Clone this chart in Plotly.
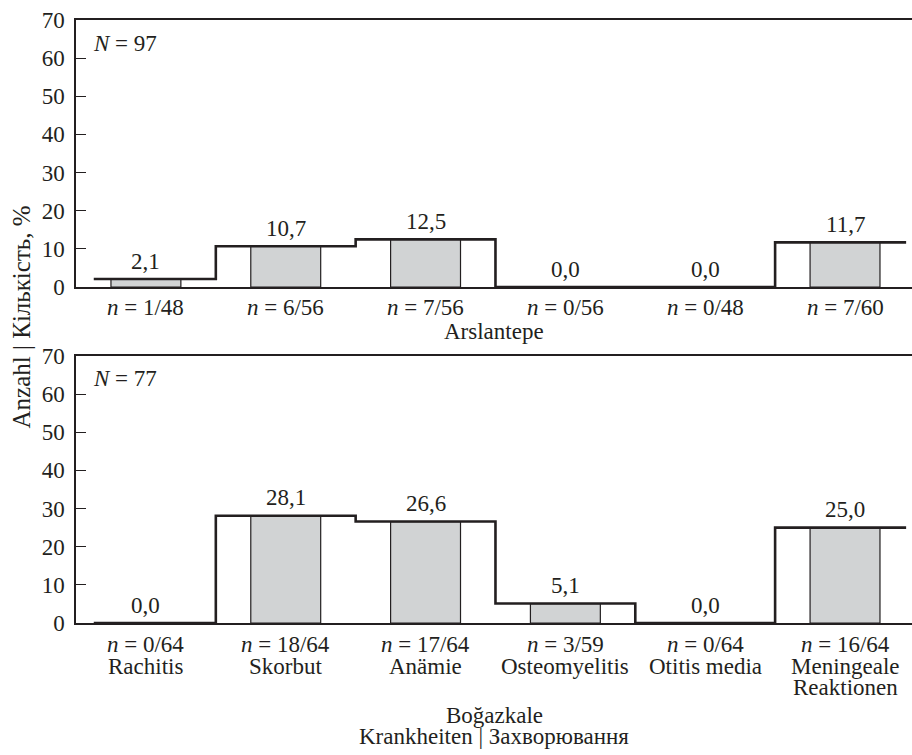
import plotly.graph_objects as go

# Disease prevalence (%) per site
diseases = ["Rachitis", "Skorbut", "Anämie", "Osteomyelitis", "Otitis media",
            "Meningeale<br>Reaktionen"]
arslantepe_pct = [2.1, 10.7, 12.5, 0.0, 0.0, 11.7]
arslantepe_n = ["1/48", "6/56", "7/56", "0/56", "0/48", "7/60"]
bogazkale_pct = [0.0, 28.1, 26.6, 5.1, 0.0, 25.0]
bogazkale_n = ["0/64", "18/64", "17/64", "3/59", "0/64", "16/64"]
arslantepe_total = 97
bogazkale_total = 77
y_ticks = [0, 10, 20, 30, 40, 50, 60, 70]

INK = "#231f20"
BAR_FILL = "#d1d3d4"
FONT = "'Liberation Serif', 'Times New Roman', Times, 'DejaVu Serif', serif"
FS = 23

idx = list(range(len(diseases)))
fig = go.Figure()


def add_panel(values, row):
    xa = "x" if row == 1 else "x2"
    ya = "y" if row == 1 else "y2"
    fig.add_trace(go.Bar(
        x=idx, y=values, width=0.5, xaxis=xa, yaxis=ya,
        marker=dict(color=BAR_FILL, line=dict(color=INK, width=1.2)),
        showlegend=False, hoverinfo="skip",
    ))
    # step outline across the category bands
    sx = [-0.373] + idx + [5.437]
    sy = [values[0]] + values + [values[-1]]
    fig.add_trace(go.Scatter(
        x=sx, y=sy, xaxis=xa, yaxis=ya, mode="lines",
        line=dict(color=INK, width=2.6, shape="hvh"),
        showlegend=False, hoverinfo="skip",
    ))


add_panel(arslantepe_pct, 1)
add_panel(bogazkale_pct, 2)

ann = []
tfont = dict(family=FONT, size=FS, color=INK)


def value_labels(values, xref, yref):
    for i, v in enumerate(values):
        ann.append(dict(x=i, y=v, xref=xref, yref=yref, showarrow=False,
                        text=f"{v:.1f}".replace(".", ","), font=tfont,
                        yanchor="middle", yshift=18))


value_labels(arslantepe_pct, "x", "y")
value_labels(bogazkale_pct, "x2", "y2")

# category labels under each panel
for i in idx:
    ann.append(dict(x=i, y=0, xref="x", yref="y domain", showarrow=False,
                    text=f"<i>n</i> = {arslantepe_n[i]}", font=tfont,
                    yanchor="middle", yshift=-20))
    ann.append(dict(x=i, y=0, xref="x2", yref="y2 domain", showarrow=False,
                    text=f"<i>n</i> = {bogazkale_n[i]}", font=tfont,
                    yanchor="middle", yshift=-21))
    for k, line in enumerate(diseases[i].split("<br>")):
        ann.append(dict(x=i, y=0, xref="x2", yref="y2 domain", showarrow=False,
                        text=line, font=tfont,
                        yanchor="middle", yshift=-43 - 21 * k))

ann += [
    dict(x=0.5, y=0, xref="x domain", yref="y domain", showarrow=False,
         text="Arslantepe", font=tfont, yanchor="middle", yshift=-44),
    dict(x=0.5, y=0, xref="x2 domain", yref="y2 domain", showarrow=False,
         text="Boğazkale", font=tfont, yanchor="middle", yshift=-92),
    dict(x=0.5, y=0, xref="x2 domain", yref="y2 domain", showarrow=False,
         text="Krankheiten | Захворювання", font=tfont,
         yanchor="middle", yshift=-113),
    dict(x=0, y=1, xref="x domain", yref="y domain", showarrow=False,
         text=f"<i>N</i> = {arslantepe_total}", font=tfont,
         xanchor="left", yanchor="middle", xshift=15, yshift=-23),
    dict(x=0, y=1, xref="x2 domain", yref="y2 domain", showarrow=False,
         text=f"<i>N</i> = {bogazkale_total}", font=tfont,
         xanchor="left", yanchor="middle", xshift=15, yshift=-23),
    dict(x=-0.0646, y=0.5083, xref="paper", yref="paper", showarrow=False,
         text="Anzahl | Кількість, %",
         font=dict(family=FONT, size=25, color=INK), textangle=-90,
         xanchor="center", yanchor="middle"),
]

xcommon = dict(range=[-0.5, 5.479], showline=True, mirror=True,
               linecolor=INK, linewidth=1.5, showgrid=False, zeroline=False,
               ticks="", showticklabels=False, fixedrange=True)
ycommon = dict(range=[0, 70], tickvals=y_ticks, showline=True, mirror=False,
               linecolor=INK, linewidth=1.5, showgrid=False, zeroline=False,
               ticks="inside", ticklen=10, tickwidth=1.2, tickcolor=INK,
               ticklabelstandoff=5,
               tickfont=dict(family=FONT, size=FS, color=INK), fixedrange=True)

fig.update_layout(
    width=912, height=755,
    margin=dict(l=76, r=0, t=20, b=132),
    paper_bgcolor="white", plot_bgcolor="white",
    barmode="overlay",
    font=dict(family=FONT, size=FS, color=INK),
    xaxis=dict(xcommon, domain=[0, 1], anchor="y"),
    yaxis=dict(ycommon, domain=[0.5572, 1], anchor="x"),
    xaxis2=dict(xcommon, domain=[0, 1], anchor="y2"),
    yaxis2=dict(ycommon, domain=[0, 0.4428], anchor="x2"),
    annotations=ann,
    showlegend=False,
)

fig.write_html("out.html")
